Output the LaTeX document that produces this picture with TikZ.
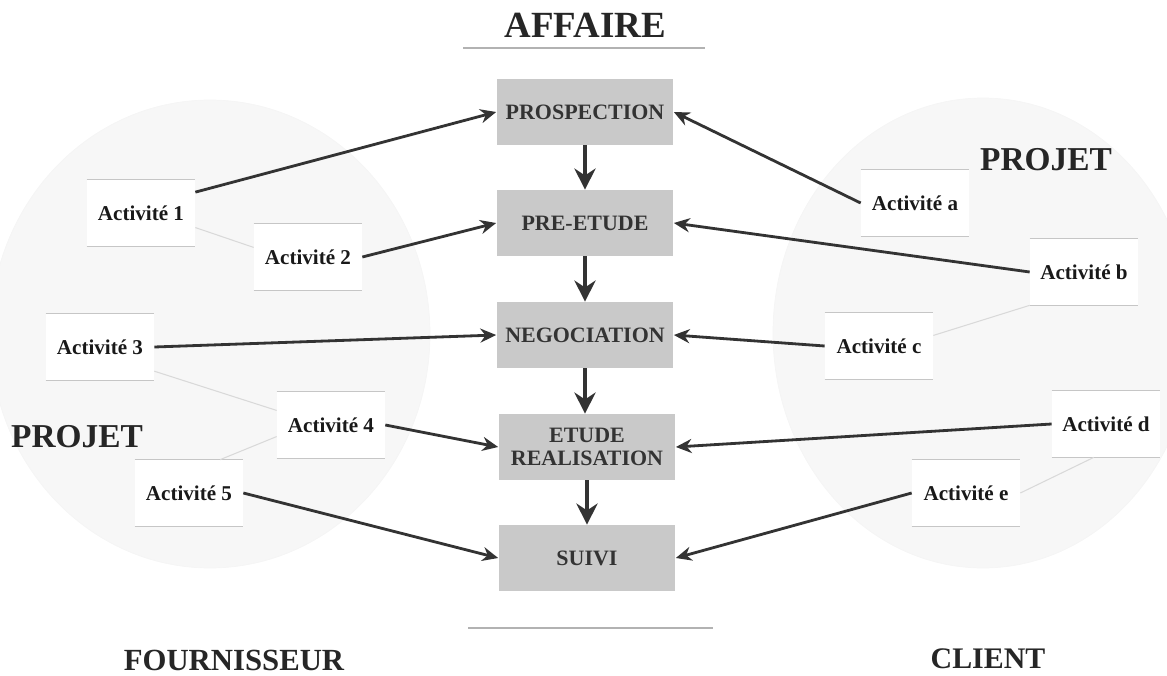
\documentclass[tikz,border=0pt]{standalone}
\usepackage{fontspec}
\setmainfont{Liberation Serif}
\usetikzlibrary{arrows.meta}

\definecolor{phasegray}{HTML}{C9C9C9}
\definecolor{zonegray}{HTML}{F7F7F7}

\tikzset{
    phase/.style={fill=phasegray, minimum width=3.54cm, minimum height=1.32cm,
        align=center, text=black!80, font=\fontsize{12.5}{13.5}\selectfont\bfseries},
    activite/.style={fill=white, minimum width=2.16cm, minimum height=1.32cm,
        text=black!90, font=\fontsize{12}{14}\selectfont\bfseries},
    titre/.style={text=black!85, font=\fontsize{19}{22}\selectfont\bfseries},
    flow/.style={-{Stealth[length=12pt, width=12pt]}, line width=2.8pt, black!80},
    feed/.style={-{Stealth[length=9pt, width=8pt]}, line width=1.6pt, black!80},
    lien/.style={gray!30, line width=0.6pt},
    boxline/.style={gray!45, line width=0.7pt}
}

\begin{document}
\begin{tikzpicture}[x=0.02cm, y=-0.02cm]
        \useasboundingbox (0,0) rectangle (1167,676);

        % Project zones
        \draw[gray!8, fill=zonegray] (210,334) ellipse (220 and 234);
        \draw[gray!8, fill=zonegray] (983,333) ellipse (210 and 235);

        % Titles
        \node[titre, font=\fontsize{21}{24}\selectfont\bfseries] (affaire) at (585,25) {AFFAIRE};
        \node[titre] (projetf) at (77,437) {PROJET};
        \node[titre] (projetc) at (1046,160) {PROJET};
        \node[titre, font=\fontsize{17.5}{20}\selectfont\bfseries] (fourn) at (234,660) {FOURNISSEUR};
        \node[titre, font=\fontsize{17}{20}\selectfont\bfseries] (client) at (988,659) {CLIENT};
        \draw[gray!60, line width=0.8pt] (463,48) -- (705,48);
        \draw[gray!60, line width=0.8pt] (468,628) -- (713,628);

        % Affaire phases
        \node[phase] (prosp) at (585,112) {PROSPECTION};
        \node[phase] (pre) at (585,223) {PRE-ETUDE};
        \node[phase] (nego) at (585,335) {NEGOCIATION};
        \node[phase] (etude) at (587,447) {ETUDE\\REALISATION};
        \node[phase] (suivi) at (587,558) {SUIVI};

        \draw[flow] (prosp) -- (pre);
        \draw[flow] (pre) -- (nego);
        \draw[flow] (nego.south) -- (nego.south |- etude.north);
        \draw[flow] (etude) -- (suivi);

        % Supplier activities
        \node[activite] (act1) at (141,213) {Activité 1};
        \node[activite] (act2) at (308,257) {Activité 2};
        \node[activite] (act3) at (100,347) {Activité 3};
        \node[activite] (act4) at (331,425) {Activité 4};
        \node[activite] (act5) at (189,493) {Activité 5};

        % Client activities
        \node[activite] (acta) at (915,203) {Activité a};
        \node[activite] (actb) at (1084,272) {Activité b};
        \node[activite] (actc) at (879,346) {Activité c};
        \node[activite] (actd) at (1106,424) {Activité d};
        \node[activite] (acte) at (966,493) {Activité e};

        \foreach \n in {act1,act2,act3,act4,act5,acta,actb,actc,actd,acte} {
            \draw[boxline] (\n.north west) -- (\n.north east);
            \draw[boxline] (\n.south west) -- (\n.south east);
        }

        % Faint links between activities
        \draw[lien] (act1.-15) -- (act2.170);
        \draw[lien] (act3.-24) -- (act4.165);
        \draw[lien] (act4.192) -- (act5.47);
        \draw[lien] (actc.11) -- (actb.south west);
        \draw[lien] (acte.east) -- (actd.250);

        % Activities feeding the phases
        \draw[feed] (act1.21) -- (prosp.west);
        \draw[feed] (act2.east) -- (pre.west);
        \draw[feed] (act3.east) -- (nego.west);
        \draw[feed] (act4.east) -- (etude.west);
        \draw[feed] (act5.east) -- (suivi.west);
        \draw[feed] (acta.west) -- (prosp.east);
        \draw[feed] (actb.west) -- (pre.east);
        \draw[feed] (actc.west) -- (nego.east);
        \draw[feed] (actd.west) -- (etude.east);
        \draw[feed] (acte.west) -- (suivi.east);
    \end{tikzpicture}
\end{document}
